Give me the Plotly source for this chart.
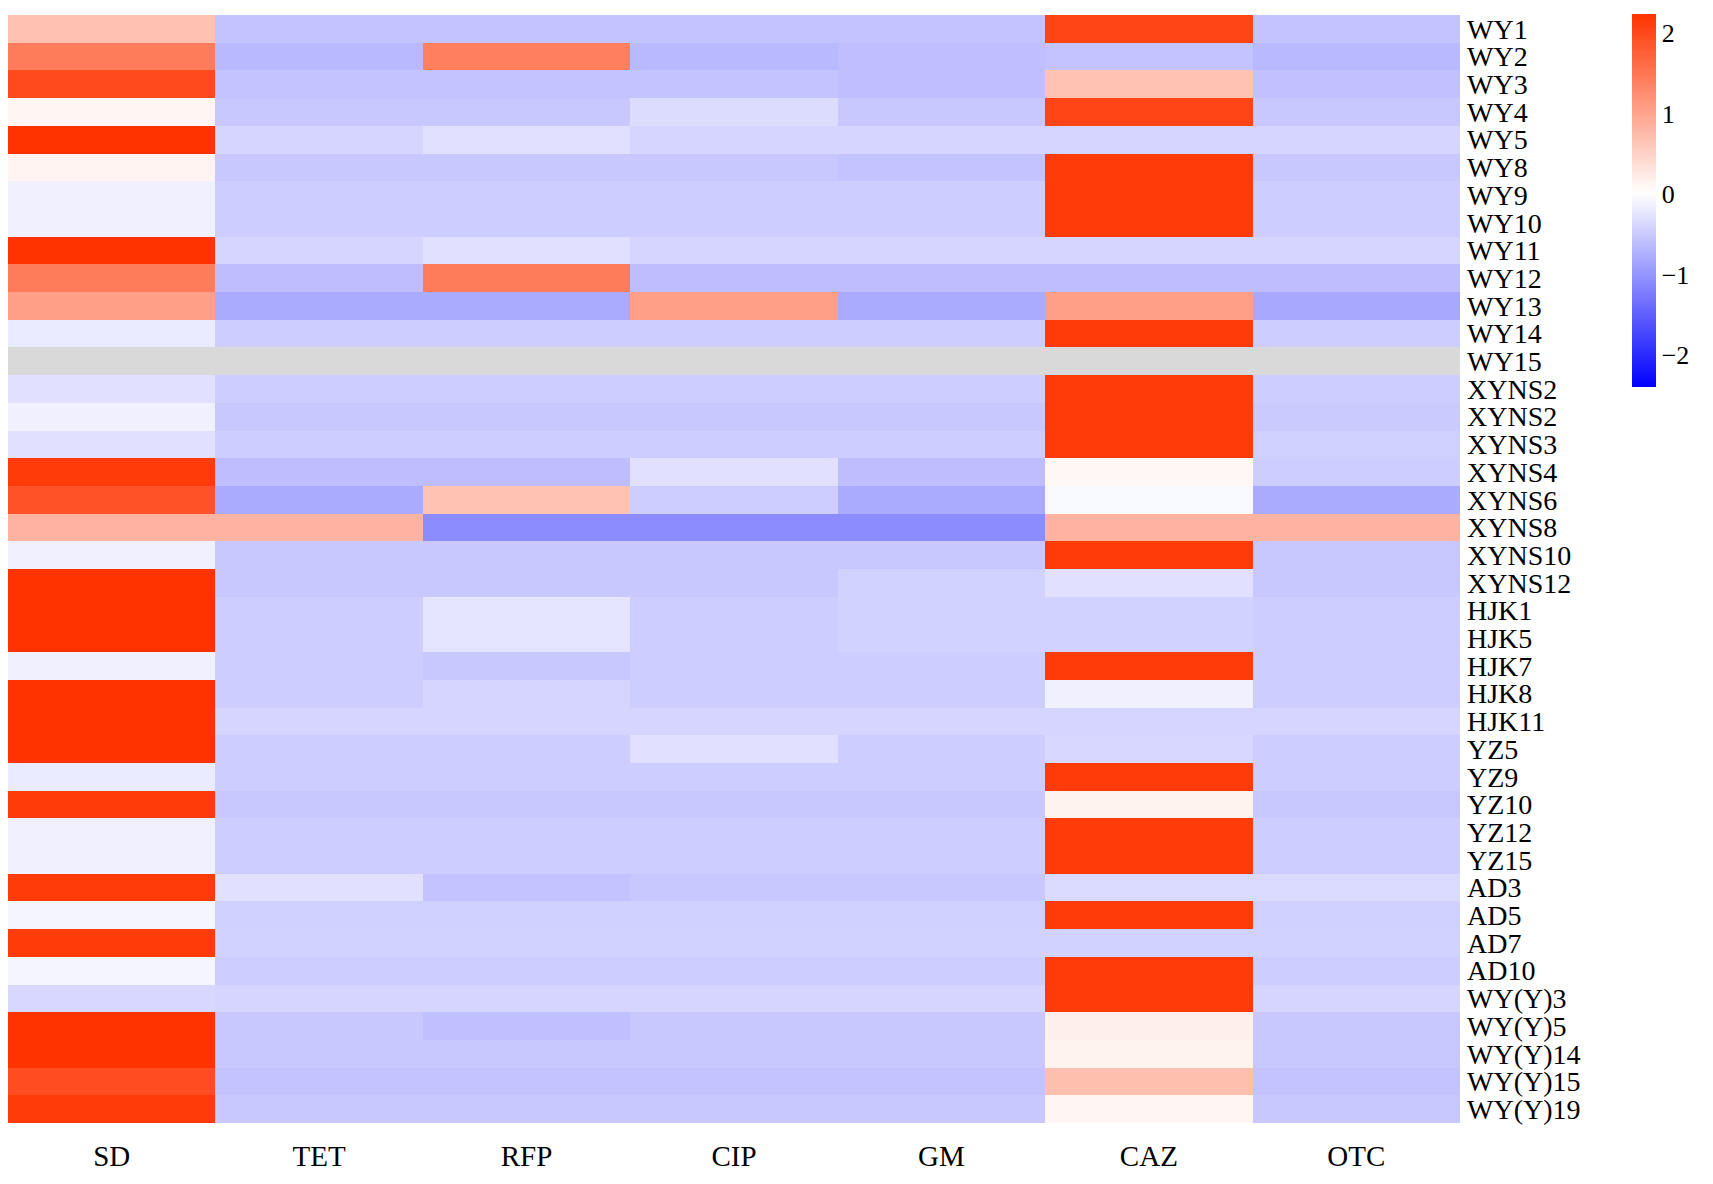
import plotly.graph_objects as go
import numpy as np

antibiotics = ["SD", "TET", "RFP", "CIP", "GM", "CAZ", "OTC"]
strains = ["WY1", "WY2", "WY3", "WY4", "WY5", "WY8", "WY9", "WY10", "WY11", "WY12",
           "WY13", "WY14", "WY15", "XYNS2", "XYNS2", "XYNS3", "XYNS4", "XYNS6", "XYNS8",
           "XYNS10", "XYNS12", "HJK1", "HJK5", "HJK7", "HJK8", "HJK11", "YZ5", "YZ9",
           "YZ10", "YZ12", "YZ15", "AD3", "AD5", "AD7", "AD10", "WY(Y)3", "WY(Y)5",
           "WY(Y)14", "WY(Y)15", "WY(Y)19"]

nan = float("nan")
# values per antibiotic column (one entry per strain, top to bottom)
SD  = [0.68, 1.45, 1.97, 0.11, 2.24, 0.12, -0.14, -0.14, 2.24, 1.45,
       1.05, -0.19, nan, -0.28, -0.14, -0.28, 2.15, 1.90, 0.83,
       -0.14, 2.24, 2.24, 2.24, -0.14, 2.24, 2.24, 2.24, -0.19,
       2.15, -0.14, -0.14, 2.15, -0.09, 2.15, -0.09, -0.38, 2.24,
       2.24, 1.95, 2.15]
TET = [-0.56, -0.66, -0.56, -0.52, -0.40, -0.52, -0.47, -0.47, -0.40, -0.61,
       -0.80, -0.47, nan, -0.47, -0.52, -0.47, -0.61, -0.80, 0.83,
       -0.52, -0.52, -0.47, -0.47, -0.47, -0.47, -0.40, -0.47, -0.47,
       -0.52, -0.47, -0.47, -0.28, -0.44, -0.42, -0.47, -0.40, -0.52,
       -0.52, -0.56, -0.52]
RFP = [-0.56, 1.40, -0.56, -0.52, -0.28, -0.52, -0.47, -0.47, -0.28, 1.45,
       -0.80, -0.47, nan, -0.47, -0.52, -0.47, -0.61, 0.66, -1.08,
       -0.52, -0.52, -0.25, -0.25, -0.52, -0.40, -0.40, -0.47, -0.47,
       -0.52, -0.47, -0.47, -0.56, -0.44, -0.42, -0.47, -0.40, -0.59,
       -0.52, -0.56, -0.52]
CIP = [-0.56, -0.66, -0.56, -0.33, -0.40, -0.52, -0.47, -0.47, -0.40, -0.61,
       1.05, -0.47, nan, -0.47, -0.52, -0.47, -0.28, -0.47, -1.08,
       -0.52, -0.52, -0.47, -0.47, -0.47, -0.47, -0.40, -0.28, -0.47,
       -0.52, -0.47, -0.47, -0.52, -0.44, -0.42, -0.47, -0.40, -0.52,
       -0.52, -0.56, -0.52]
GM  = [-0.56, -0.60, -0.60, -0.52, -0.40, -0.56, -0.47, -0.47, -0.40, -0.61,
       -0.80, -0.47, nan, -0.47, -0.52, -0.47, -0.61, -0.80, -1.08,
       -0.52, -0.42, -0.42, -0.42, -0.47, -0.47, -0.40, -0.47, -0.47,
       -0.52, -0.47, -0.47, -0.52, -0.44, -0.42, -0.47, -0.40, -0.52,
       -0.52, -0.56, -0.52]
CAZ = [2.05, -0.56, 0.66, 2.05, -0.40, 2.15, 2.15, 2.15, -0.40, -0.61,
       1.05, 2.15, nan, 2.15, 2.15, 2.15, 0.09, -0.07, 0.83,
       2.15, -0.28, -0.42, -0.42, 2.15, -0.14, -0.40, -0.38, 2.15,
       0.13, 2.15, 2.15, -0.35, 2.15, -0.42, 2.15, 2.15, 0.17,
       0.13, 0.70, 0.11]
OTC = [-0.56, -0.66, -0.58, -0.52, -0.40, -0.52, -0.47, -0.47, -0.40, -0.61,
       -0.82, -0.47, nan, -0.47, -0.50, -0.44, -0.47, -0.80, 0.83,
       -0.52, -0.52, -0.47, -0.47, -0.47, -0.47, -0.40, -0.47, -0.47,
       -0.52, -0.47, -0.47, -0.35, -0.44, -0.42, -0.47, -0.40, -0.52,
       -0.52, -0.56, -0.52]

columns = [SD, TET, RFP, CIP, GM, CAZ, OTC]
z = np.array(columns, dtype=float).T  # rows = strains, cols = antibiotics

zmin, zmax = -2.40, 2.236
mid = (0 - zmin) / (zmax - zmin)
colorscale = [[0, "#0000FF"], [mid, "#FFFFFF"], [1, "#FF3300"]]

fig = go.Figure(go.Heatmap(
    z=z,
    x=list(range(len(antibiotics))),
    y=list(range(len(strains))),
    zmin=zmin, zmax=zmax,
    colorscale=colorscale,
    hoverongaps=False,
    colorbar=dict(
        thickness=24, thicknessmode="pixels",
        len=373 / 1108, lenmode="fraction",
        x=1624 / 1452, xanchor="left", xref="paper",
        y=1.0006, yanchor="top",
        xpad=0, ypad=0,
        tickvals=[-2, -1, 0, 1, 2],
        ticks="", outlinewidth=0, ticklabelposition="outside",
        tickfont=dict(family="Liberation Serif", size=26, color="black"),
    ),
))

fig.update_layout(
    width=1705, height=1176,
    margin=dict(l=0, r=253, t=7, b=61, autoexpand=False),
    paper_bgcolor="white",
    plot_bgcolor="#D9D9D9",
    font=dict(family="Liberation Serif", color="black"),
    xaxis=dict(
        tickvals=list(range(len(antibiotics))), ticktext=antibiotics,
        showgrid=False, zeroline=False, ticks="", showline=False,
        tickfont=dict(size=29), range=[-0.5, 6.5], ticklabelstandoff=13,
    ),
    yaxis=dict(
        tickvals=list(range(len(strains))), ticktext=strains,
        side="right", autorange="reversed",
        showgrid=False, zeroline=False, ticks="", showline=False,
        tickfont=dict(size=28), ticklabelstandoff=6,
    ),
)

fig.write_html("out.html")
